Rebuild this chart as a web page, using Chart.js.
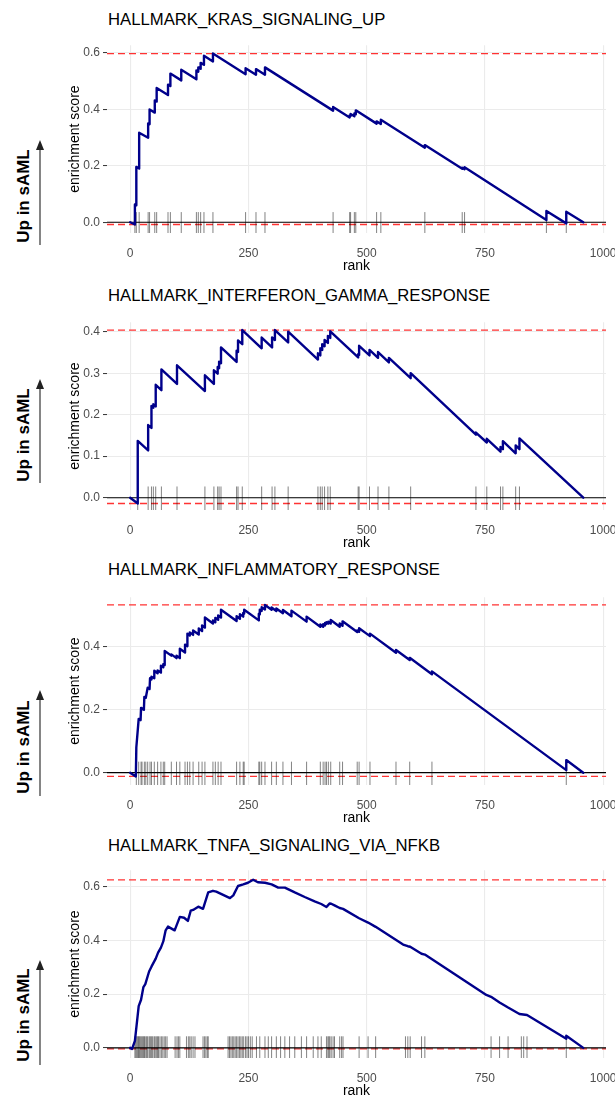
<!DOCTYPE html>
<html>
<head>
<meta charset="utf-8">
<script src="https://cdn.jsdelivr.net/npm/chart.js@4.4.1/dist/chart.umd.min.js"></script>
<style>
  body { margin: 0; width: 615px; height: 1099px; overflow: hidden; background: #fff; position: relative;
         font-family: "Liberation Sans", Arial, sans-serif; }
  .panel { position: absolute; left: 0; width: 640px; height: 240px; }
  .title { position: absolute; left: 108px; font-size: 16.7px; line-height: 1; color: #000; white-space: nowrap; }
  .side { position: absolute; left: 23px; font-size: 17px; font-weight: bold; line-height: 1; white-space: nowrap;
          color: #000; transform: translate(-50%, -50%) rotate(-90deg); }
  svg { position: absolute; left: 0; top: 0; }
</style>
</head>
<body>
<svg id="arrows" width="615" height="1099"></svg>
<script>
// x axis (rank)
const rankTicks = [0, 250, 500, 750, 1000];

// HALLMARK_KRAS_SIGNALING_UP
const krasRank = [0, 10, 10, 13, 13, 19, 19, 38, 38, 41, 41, 52, 52, 56, 56, 80, 80, 85, 85, 108, 108,
  140, 140, 144, 144, 149, 149, 156, 156, 175, 175, 244, 244, 266, 266, 285, 285, 429, 429,
  464, 464, 466, 466, 474, 474, 477, 477, 521, 521, 530, 530, 623, 623, 702, 702, 707, 707,
  880, 880, 922, 922, 958];
const krasES = [0, -0.008, 0.063, 0.06, 0.196, 0.19, 0.317, 0.299, 0.35, 0.347, 0.399, 0.388, 0.431, 0.427, 0.475,
  0.45, 0.487, 0.482, 0.526, 0.502, 0.54, 0.506, 0.537, 0.533, 0.548, 0.543, 0.564, 0.557, 0.589, 0.569, 0.597,
  0.524, 0.545, 0.522, 0.542, 0.522, 0.548, 0.395, 0.408, 0.371, 0.378, 0.376, 0.383, 0.375, 0.385, 0.382, 0.396,
  0.349, 0.357, 0.348, 0.363, 0.264, 0.273, 0.189, 0.193, 0.188, 0.195, 0.008, 0.04, -0.004, 0.037, 0];
const krasHits = [10, 13, 19, 38, 41, 52, 56, 80, 85, 108, 140, 144, 149, 156, 175, 244, 266, 285,
  429, 464, 466, 474, 477, 521, 530, 623, 702, 707, 880, 922];

// HALLMARK_INTERFERON_GAMMA_RESPONSE
const ifngRank = [0, 16, 16, 38, 38, 45, 45, 49, 49, 54, 54, 66, 66, 99, 99, 158, 158, 177, 177, 185, 185,
  188, 188, 192, 192, 225, 225, 228, 228, 237, 237, 278, 278, 300, 300, 306, 306, 334, 334,
  397, 397, 402, 402, 406, 406, 411, 411, 418, 418, 423, 423, 482, 482, 484, 484, 506, 506,
  524, 524, 547, 547, 593, 593, 731, 731, 754, 754, 783, 783, 788, 788, 815, 815, 823, 823, 958];
const ifngES = [0, -0.014, 0.137, 0.114, 0.175, 0.168, 0.221, 0.217, 0.225, 0.22, 0.272, 0.259, 0.309, 0.274, 0.319,
  0.257, 0.295, 0.274, 0.307, 0.299, 0.315, 0.312, 0.328, 0.324, 0.362, 0.327, 0.354, 0.351, 0.379, 0.37, 0.404,
  0.36, 0.386, 0.362, 0.386, 0.38, 0.404, 0.374, 0.4, 0.333, 0.348, 0.343, 0.36, 0.356, 0.37, 0.365, 0.38,
  0.373, 0.39, 0.385, 0.401, 0.338, 0.346, 0.344, 0.366, 0.343, 0.356, 0.337, 0.351, 0.326, 0.337, 0.288, 0.3,
  0.152, 0.157, 0.133, 0.142, 0.111, 0.122, 0.117, 0.136, 0.107, 0.126, 0.117, 0.143, 0];
const ifngHits = [16, 38, 45, 49, 54, 66, 99, 158, 177, 185, 188, 192, 225, 228, 237, 278, 300, 306, 334,
  397, 402, 406, 411, 418, 423, 482, 484, 506, 524, 547, 593, 731, 754, 783, 788, 815, 823];

// HALLMARK_INFLAMMATORY_RESPONSE
const inflRank = [0, 12, 13, 18, 22, 23, 29, 30, 33, 37, 41, 42, 45, 45, 51, 51, 58, 58, 65, 65, 70, 70, 73, 73,
  87, 87, 98, 98, 105, 105, 116, 116, 121, 121, 126, 126, 133, 133, 145, 145, 152, 152, 158, 158,
  175, 175, 180, 180, 186, 186, 192, 192, 225, 225, 232, 232, 239, 239, 241, 241, 272, 272, 274, 274,
  278, 278, 285, 285, 299, 299, 309, 309, 323, 323, 341, 341, 373, 373, 402, 402, 408, 408, 412, 412,
  415, 415, 419, 419, 424, 424, 443, 443, 449, 449, 480, 480, 484, 484, 507, 507, 562, 562, 591, 591,
  638, 638, 922, 922, 958];
const inflES = [0, -0.012, 0.08, 0.171, 0.167, 0.206, 0.2, 0.241, 0.238, 0.27, 0.266, 0.3, 0.296, 0.305, 0.3, 0.324,
  0.316, 0.325, 0.318, 0.34, 0.335, 0.345, 0.342, 0.387, 0.372, 0.376, 0.364, 0.372, 0.364, 0.394, 0.382, 0.407,
  0.402, 0.442, 0.436, 0.446, 0.438, 0.452, 0.439, 0.458, 0.45, 0.468, 0.461, 0.493, 0.474, 0.484, 0.478, 0.492,
  0.486, 0.5, 0.493, 0.518, 0.482, 0.497, 0.489, 0.504, 0.496, 0.508, 0.506, 0.518, 0.484, 0.505, 0.503, 0.518,
  0.514, 0.526, 0.519, 0.533, 0.518, 0.525, 0.514, 0.522, 0.507, 0.517, 0.497, 0.515, 0.48, 0.496, 0.464, 0.471,
  0.464, 0.472, 0.468, 0.476, 0.473, 0.478, 0.474, 0.48, 0.474, 0.485, 0.464, 0.474, 0.467, 0.481, 0.447, 0.452,
  0.448, 0.459, 0.434, 0.442, 0.381, 0.39, 0.358, 0.365, 0.313, 0.322, 0.008, 0.04, 0];
const inflHits = [13, 18, 23, 25, 30, 33, 37, 42, 45, 51, 58, 65, 70, 73, 87, 98, 105, 116, 121, 126, 133,
  145, 152, 158, 175, 180, 186, 192, 225, 232, 239, 241, 272, 274, 278, 285, 299, 309, 323, 341, 373,
  402, 408, 412, 415, 419, 424, 443, 449, 480, 484, 507, 562, 591, 638, 922];

// HALLMARK_TNFA_SIGNALING_VIA_NFKB
const tnfaRank = [0, 4, 10, 18, 23, 28, 32, 40, 45, 54, 59, 65, 70, 75, 80, 94, 105, 114, 122, 128, 133, 144,
  154, 165, 175, 182, 211, 218, 228, 239, 249, 260, 270, 285, 299, 313, 327, 348, 369, 390, 404, 415,
  418, 422, 425, 432, 443, 450, 484, 503, 519, 577, 587, 592, 616, 623, 753, 763, 781, 799, 823, 839,
  922, 922, 958];
const tnfaES = [0, -0.004, 0.026, 0.155, 0.179, 0.226, 0.237, 0.284, 0.302, 0.332, 0.354, 0.373, 0.396, 0.437,
  0.451, 0.437, 0.487, 0.484, 0.472, 0.51, 0.513, 0.525, 0.517, 0.578, 0.584, 0.581, 0.557, 0.567, 0.602,
  0.608, 0.614, 0.625, 0.616, 0.614, 0.608, 0.596, 0.596, 0.578, 0.561, 0.545, 0.535, 0.524, 0.53, 0.537,
  0.536, 0.53, 0.52, 0.517, 0.482, 0.466, 0.45, 0.384, 0.378, 0.376, 0.35, 0.347, 0.197, 0.19, 0.169, 0.15,
  0.126, 0.122, 0.034, 0.045, 0];
const tnfaHits = [10, 12, 14, 16, 18, 19, 21, 23, 25, 27, 29, 30, 33, 35, 37, 40, 42, 44, 46, 48, 51, 53, 56,
  58, 60, 63, 66, 69, 72, 75, 78, 95, 99, 102, 105, 119, 123, 126, 129, 133, 137, 154, 157, 160, 163, 165,
  207, 210, 213, 216, 219, 222, 225, 228, 231, 234, 237, 240, 244, 247, 250, 254, 258, 267, 274, 285, 292,
  299, 309, 318, 327, 337, 348, 362, 373, 387, 397, 404, 415, 418, 420, 422, 425, 429, 432, 443, 447, 450,
  484, 503, 519, 582, 587, 592, 616, 623, 763, 781, 799, 827, 832, 839, 922];

const FONT = "'Liberation Sans', Arial, sans-serif";
const X_MIN = -49, X_MAX = 1006;

const panels = [
  { title: "HALLMARK_KRAS_SIGNALING_UP", rank: krasRank, es: krasES, hits: krasHits,
    yTicks: [0, 0.2, 0.4, 0.6], yMin: -0.038, yMax: 0.6265, rugTop: 0.036,
    plotTop: 35, titleTop: 11.9, sideY: 196, arrowTip: 140, arrowBase: 245 },
  { title: "HALLMARK_INTERFERON_GAMMA_RESPONSE", rank: ifngRank, es: ifngES, hits: ifngHits,
    yTicks: [0, 0.1, 0.2, 0.3, 0.4], yMin: -0.0297, yMax: 0.4229, rugTop: 0.027,
    plotTop: 311.7, titleTop: 287.6, sideY: 435, arrowTip: 379, arrowBase: 483 },
  { title: "HALLMARK_INFLAMMATORY_RESPONSE", rank: inflRank, es: inflES, hits: inflHits,
    yTicks: [0, 0.2, 0.4], yMin: -0.0392, yMax: 0.5577, rugTop: 0.035,
    plotTop: 586.7, titleTop: 561.9, sideY: 746.5, arrowTip: 690, arrowBase: 796 },
  { title: "HALLMARK_TNFA_SIGNALING_VIA_NFKB", rank: tnfaRank, es: tnfaES, hits: tnfaHits,
    yTicks: [0, 0.2, 0.4, 0.6], yMin: -0.0377, yMax: 0.6607, rugTop: 0.043,
    plotTop: 860, titleTop: 837.6, sideY: 1015, arrowTip: 960, arrowBase: 1065 },
];

function hline(y, color, width, dash) {
  return { data: [{ x: X_MIN, y: y }, { x: X_MAX, y: y }], borderColor: color, borderWidth: width,
           borderDash: dash || [], pointRadius: 0 };
}

function makePanel(p) {
  const title = document.createElement("div");
  title.className = "title";
  title.style.top = p.titleTop + "px";
  title.textContent = p.title;
  document.body.appendChild(title);

  const side = document.createElement("div");
  side.className = "side";
  side.style.top = p.sideY + "px";
  side.textContent = "Up in sAML";
  document.body.appendChild(side);

  const svg = document.getElementById("arrows");
  svg.insertAdjacentHTML("beforeend",
    `<line x1="40" y1="${p.arrowBase}" x2="40" y2="${p.arrowTip + 8}" stroke="#333" stroke-width="1.2"/>` +
    `<polygon points="40,${p.arrowTip} 36,${p.arrowTip + 10} 44,${p.arrowTip + 10}" fill="#222"/>`);

  const wrap = document.createElement("div");
  wrap.className = "panel";
  wrap.style.top = p.plotTop + "px";
  const cv = document.createElement("canvas");
  cv.width = 640; cv.height = 240;
  wrap.appendChild(cv);
  document.body.appendChild(wrap);

  const curve = p.rank.map((r, i) => ({ x: r, y: p.es[i] }));
  const rug = p.hits.flatMap(r => [{ x: r, y: p.yMin }, { x: r, y: p.rugTop }, { x: r, y: null }]);
  const esMax = Math.max(...p.es), esMin = Math.min(...p.es);

  new Chart(cv, {
    type: "line",
    data: {
      datasets: [
        { data: curve, borderColor: "#00008B", borderWidth: 2.4, pointRadius: 0, tension: 0,
          borderJoinStyle: "round", borderCapStyle: "round", order: 0 },
        { data: rug, borderColor: "rgba(0,0,0,0.55)", borderWidth: 0.9, pointRadius: 0, spanGaps: false, order: 1 },
        Object.assign(hline(0, "#000", 1.1), { order: 2 }),
        Object.assign(hline(esMax, "#FF3333", 1.3, [7, 4]), { order: 3 }),
        Object.assign(hline(esMin, "#FF3333", 1.3, [7, 4]), { order: 3 }),
      ],
    },
    options: {
      responsive: false,
      animation: false,
      layout: { padding: { left: 66.7, right: 34, top: 0, bottom: 0 } },
      plugins: { legend: { display: false }, tooltip: { enabled: false } },
      scales: {
        x: {
          type: "linear", min: X_MIN, max: X_MAX,
          afterBuildTicks: s => { s.ticks = rankTicks.map(v => ({ value: v })); },
          afterFit: s => { s.height = 42; },
          grid: { color: "#EBEBEB", lineWidth: 1.1, drawTicks: false },
          border: { display: false },
          ticks: { padding: 13, color: "#4D4D4D", font: { family: FONT, size: 12 }, maxRotation: 0,
                   autoSkip: false, callback: v => String(v) },
          title: { display: true, text: "rank", color: "#000", font: { family: FONT, size: 14 }, padding: 0 },
        },
        y: {
          min: p.yMin, max: p.yMax,
          afterBuildTicks: s => { s.ticks = p.yTicks.map(v => ({ value: v })); },
          afterFit: s => { s.width = 40.3; },
          grid: { color: "#EBEBEB", lineWidth: 1.1, tickLength: 4, tickColor: "#333", tickWidth: 1 },
          border: { display: false },
          ticks: { padding: 3, color: "#4D4D4D", font: { family: FONT, size: 12 }, callback: v => v.toFixed(1) },
          title: { display: true, text: "enrichment score", color: "#000", font: { family: FONT, size: 14 }, padding: 0 },
        },
      },
    },
  });
}

panels.forEach(makePanel);
</script>
</body>
</html>
